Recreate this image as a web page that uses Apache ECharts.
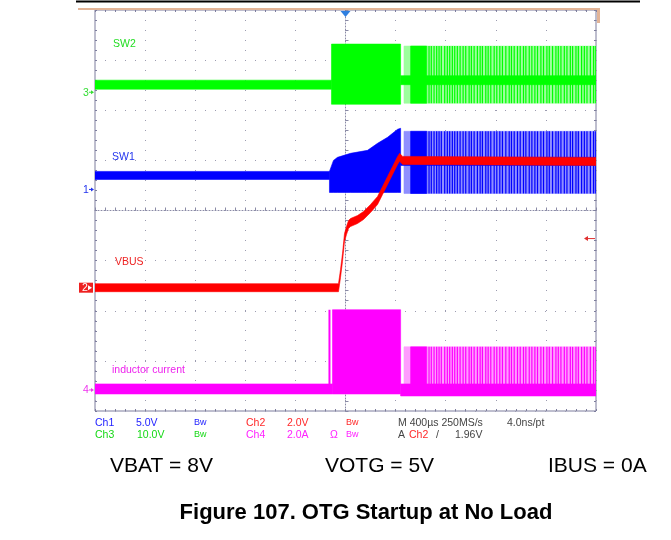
<!DOCTYPE html>
<html>
<head>
<meta charset="utf-8">
<script src="https://cdn.jsdelivr.net/npm/echarts@6/dist/echarts.min.js"></script>
<style>
  html, body { margin: 0; padding: 0; background: #ffffff; }
  #c { width: 671px; height: 540px; }
</style>
</head>
<body>
<div id="c"></div>
<script>
// ---- Scope settings -------------------------------------------------------
const timeMin = -2000;          // µs, trigger at 0
const timeMax = 2000;
const timePerDiv = 400;         // µs / div
const divHalf = 4;              // 8 vertical divisions

// volts (or amps) per division and ground offset in divisions, per channel
const ch1Scale = 5,  ch1Offset = 0.42;   // SW1
const ch2Scale = 2,  ch2Offset = -1.54;  // VBUS
const ch3Scale = 10, ch3Offset = 2.36;   // SW2
const ch4Scale = 2,  ch4Offset = -3.58;  // inductor current
const triggerLevel = 1.96;               // V on Ch2

// ---- Waveforms (time in µs) -----------------------------------------------
// SW2 (V)
const sw2IdleBefore = [[-2000, 1.5], [-112, 1.5]];
const sw2Block      = [[-112, -2.4, 9.6], [440, -2.4, 9.6]];
const sw2BurstSpan  = [[467, -2.2, 9.2], [2000, -2.2, 9.2]];
const sw2BurstBlock = [[520, -2.2, 9.2], [648, -2.2, 9.2]];
const sw2PulseRange = [-2.2, 9.2];
const sw2IdleAfter  = [[440, 2.4], [2000, 2.4]];

// SW1 (V)
const sw1IdleBefore = [[-2000, 1.4], [-128, 1.4]];
const sw1Block = [[-128, -0.3, 1.8], [-96, -0.3, 2.9], [-64, -0.3, 3.2], [40, -0.3, 3.6],
                  [176, -0.3, 3.9], [256, -0.3, 4.6], [336, -0.3, 5.2], [416, -0.3, 6.0],
                  [440, -0.3, 6.1]];
const sw1BurstSpan  = [[467, -0.4, 5.8], [2000, -0.4, 5.8]];
const sw1BurstBlock = [[520, -0.4, 5.8], [648, -0.4, 5.8]];
const sw1PulseRange = [-0.4, 5.8];
const sw1IdleAfter  = [[440, 2.8], [2000, 2.8]];

// VBUS (V)
const vbusT = [-2000, -56, -40, -24, -8, 8, 24, 40, 96, 144, 200, 256, 296, 336, 376, 416, 432, 456, 2000];
const vbusV = [0, 0, 0.56, 1.2, 2.0, 2.28, 2.52, 2.6, 2.72, 2.88, 3.16, 3.48, 3.88, 4.28, 4.68, 5.08, 5.2, 5.08, 5.04];

// Inductor current (A)
const ilIdleBefore = [[-2000, 0.04], [-104, 0.04]];
const ilSpike      = [[-128, -0.16, 3.2]];
const ilBlock      = [[-104, -0.16, 3.2], [440, -0.16, 3.2]];
const ilBurstSpan  = [[467, -0.16, 1.72], [2000, -0.16, 1.72]];
const ilBurstBlock = [[520, -0.16, 1.72], [648, -0.16, 1.72]];
const ilPulseRange = [-0.16, 1.72];
const ilIdleAfter  = [[440, 0], [2000, 0]];

// burst-mode switching events after soft start (shared by all switching channels)
const burstTimes = [667, 685, 707, 728, 747, 765, 792, 813, 832, 853, 872, 893, 915, 939, 960,
  987, 1005, 1027, 1053, 1075, 1093, 1120, 1139, 1160, 1187, 1208, 1232, 1253, 1280, 1307,
  1325, 1347, 1373, 1395, 1421, 1440, 1467, 1488, 1512, 1533, 1560, 1581, 1608, 1627, 1653,
  1680, 1699, 1720, 1747, 1768, 1795, 1813, 1840, 1859, 1885, 1907, 1928, 1955, 1981, 1998];

// ---- Colours ----------------------------------------------------------------
const cGreen = '#00ff00', cGreenL = '#9dff9d';
const cBlue = '#0000ff',  cBlueL = '#8f8fff';
const cRed = '#ff0000';
const cMag = '#ff00ff',   cMagL = '#ff9dff';
const gridDot = '#9c9cb0';
const frameCol = '#7d7d9d';

// ---- Renderers ----------------------------------------------------------------
// filled envelope between low (dim 1) and high (dim 2)
function envelope(name, yIdx, data, color, z) {
  return {
    type: 'custom', name, xAxisIndex: 0, yAxisIndex: yIdx, z, silent: true, clip: true,
    data,
    renderItem(params, api) {
      if (params.dataIndexInside !== 0) return null;
      const n = params.dataInsideLength;
      const top = [], bot = [];
      for (let i = 0; i < n; i++) {
        const t = api.value(0, i);
        top.push(api.coord([t, api.value(2, i)]));
        bot.push(api.coord([t, api.value(1, i)]));
      }
      return { type: 'polygon', shape: { points: top.concat(bot.reverse()) },
               style: { fill: color, stroke: color, lineWidth: 0.6 } };
    }
  };
}
// thick trace: the value line spread vertically by halfPx pixels
function trace(name, yIdx, data, color, halfPx, z) {
  return {
    type: 'custom', name, xAxisIndex: 0, yAxisIndex: yIdx, z, silent: true, clip: true,
    data,
    renderItem(params, api) {
      if (params.dataIndexInside !== 0) return null;
      const n = params.dataInsideLength;
      const top = [], bot = [];
      for (let i = 0; i < n; i++) {
        const p = api.coord([api.value(0, i), api.value(1, i)]);
        top.push([p[0], p[1] - halfPx]);
        bot.push([p[0], p[1] + halfPx]);
      }
      return { type: 'polygon', shape: { points: top.concat(bot.reverse()) },
               style: { fill: color, stroke: color, lineWidth: 0.6 } };
    }
  };
}
// individual switching pulses drawn as vertical strokes
function pulses(name, yIdx, data, color, width, z) {
  return {
    type: 'custom', name, xAxisIndex: 0, yAxisIndex: yIdx, z, silent: true, clip: true,
    data,
    renderItem(params, api) {
      const t = api.value(0);
      const a = api.coord([t, api.value(1)]);
      const b = api.coord([t, api.value(2)]);
      return { type: 'line', shape: { x1: a[0], y1: a[1], x2: b[0], y2: b[1] },
               style: { stroke: color, lineWidth: width } };
    }
  };
}
const withRange = (times, r) => times.map(t => [t, r[0], r[1]]);
const vbusData = vbusT.map((t, i) => [t, vbusV[i]]);

// ---- Axes -------------------------------------------------------------------
const GRID = { left: 95, top: 10, width: 501, height: 401 };
function chAxis(scale, off) {
  return { type: 'value', gridIndex: 0, show: false,
           min: (-divHalf - off) * scale, max: (divHalf - off) * scale,
           axisLine: { onZero: false } };
}
function edgeX(pos) {
  return { type: 'value', gridIndex: 1, position: pos, min: timeMin, max: timeMax, interval: timePerDiv,
           axisLine: { show: false, onZero: false }, axisLabel: { show: false }, splitLine: { show: false },
           axisTick: { show: true, inside: true, length: 2, lineStyle: { color: frameCol } },
           minorTick: { show: true, splitNumber: 5, length: 2, lineStyle: { color: frameCol } } };
}
function edgeY(pos) {
  return { type: 'value', gridIndex: 1, position: pos, min: -divHalf, max: divHalf, interval: 1,
           axisLine: { show: false, onZero: false }, axisLabel: { show: false }, splitLine: { show: false },
           axisTick: { show: true, inside: true, length: 2, lineStyle: { color: frameCol } },
           minorTick: { show: true, splitNumber: 5, length: 2, lineStyle: { color: frameCol } } };
}

const option = {
  animation: false,
  backgroundColor: '#ffffff',
  grid: [
    Object.assign({ show: true, borderColor: frameCol, borderWidth: 1, backgroundColor: 'transparent' }, GRID),
    Object.assign({ show: false }, GRID)
  ],
  xAxis: [
    { type: 'value', gridIndex: 0, min: timeMin, max: timeMax, interval: timePerDiv,
      axisLine: { show: true, onZero: true, onZeroAxisIndex: 0,
                  lineStyle: { color: '#8a8aa6', type: [1, 2], width: 1 } },
      axisTick: { show: true, inside: true, length: 3, lineStyle: { color: '#8a8aa6' } },
      minorTick: { show: true, splitNumber: 5, length: 3, lineStyle: { color: '#8a8aa6' } },
      axisLabel: { show: false },
      splitLine: { show: true, lineStyle: { color: gridDot, type: [1, 9], width: 1 } } },
    edgeX('top'),
    edgeX('bottom')
  ],
  yAxis: [
    { type: 'value', gridIndex: 0, min: -divHalf, max: divHalf, interval: 1,
      axisLine: { show: true, onZero: true, onZeroAxisIndex: 0,
                  lineStyle: { color: '#8a8aa6', type: [1, 2], width: 1 } },
      axisTick: { show: true, inside: true, length: 3, lineStyle: { color: '#8a8aa6' } },
      minorTick: { show: true, splitNumber: 5, length: 3, lineStyle: { color: '#8a8aa6' } },
      axisLabel: { show: false },
      splitLine: { show: true, lineStyle: { color: gridDot, type: [1, 9], width: 1 } } },
    chAxis(ch1Scale, ch1Offset),   // 1
    chAxis(ch2Scale, ch2Offset),   // 2
    chAxis(ch3Scale, ch3Offset),   // 3
    chAxis(ch4Scale, ch4Offset),   // 4
    edgeY('left'),
    edgeY('right')
  ],
  series: [
    // SW2 (Ch3)
    envelope('SW2 burst', 3, sw2BurstSpan, cGreenL, 3),
    pulses('SW2 pulses', 3, withRange(burstTimes, sw2PulseRange), cGreen, 1.2, 4),
    envelope('SW2 burst block', 3, sw2BurstBlock, cGreen, 4),
    envelope('SW2 switching', 3, sw2Block, cGreen, 4),
    trace('SW2 idle', 3, sw2IdleBefore, cGreen, 4.5, 5),
    trace('SW2 idle after', 3, sw2IdleAfter, cGreen, 4.5, 5),
    // SW1 (Ch1)
    envelope('SW1 burst', 1, sw1BurstSpan, cBlueL, 3),
    pulses('SW1 pulses', 1, withRange(burstTimes, sw1PulseRange), cBlue, 1.2, 4),
    envelope('SW1 burst block', 1, sw1BurstBlock, cBlue, 4),
    envelope('SW1 switching', 1, sw1Block, cBlue, 4),
    trace('SW1 idle', 1, sw1IdleBefore, cBlue, 4, 5),
    trace('SW1 idle after', 1, sw1IdleAfter, cBlue, 4, 5),
    // Inductor current (Ch4)
    envelope('IL burst', 4, ilBurstSpan, cMagL, 3),
    pulses('IL pulses', 4, withRange(burstTimes, ilPulseRange), cMag, 1.2, 4),
    pulses('IL spike', 4, ilSpike, cMag, 2, 4),
    envelope('IL burst block', 4, ilBurstBlock, cMag, 4),
    envelope('IL switching', 4, ilBlock, cMag, 4),
    trace('IL idle', 4, ilIdleBefore, cMag, 5, 5),
    trace('IL idle after', 4, ilIdleAfter, cMag, 6, 5),
    // VBUS (Ch2) on top
    trace('VBUS', 2, vbusData, cRed, 4, 8)
  ]
};

const chart = echarts.init(document.getElementById('c'), null, { renderer: 'canvas' });
chart.setOption(option);

// ---- Annotations ----------------------------------------------------------------
const FONT = '"Liberation Sans", Arial, sans-serif';
function txt(x, y, s, color, size, extra) {
  return Object.assign({ type: 'text', x, y, silent: true, z: 50,
    style: { text: s, fill: color, font: (size || 10.5) + 'px ' + FONT, verticalAlign: 'middle' } }, extra || {});
}
function groundMarker(yIdx, label, color, boxed) {
  const y = chart.convertToPixel({ yAxisIndex: yIdx }, 0);
  const els = [];
  if (boxed) {
    els.push({ type: 'rect', shape: { x: 79, y: y - 5, width: 14, height: 10 }, style: { fill: color }, z: 50, silent: true });
    els.push(txt(82, y + 0.5, label, '#ffffff', 10.5));
    els.push({ type: 'polygon', shape: { points: [[88, y - 2.5], [92, y], [88, y + 2.5]] }, style: { fill: '#ffffff' }, z: 51, silent: true });
  } else {
    els.push(txt(83, y + 0.5, label, color, 10.5));
    els.push({ type: 'line', shape: { x1: 89, y1: y, x2: 92, y2: y }, style: { stroke: color, lineWidth: 1 }, z: 50, silent: true });
    els.push({ type: 'polygon', shape: { points: [[91, y - 2], [94, y], [91, y + 2]] }, style: { fill: color }, z: 50, silent: true });
  }
  return els;
}

const trigX = chart.convertToPixel({ xAxisIndex: 0 }, 0);
const trigY = chart.convertToPixel({ yAxisIndex: 2 }, triggerLevel);

const graphics = [
  // page rules
  { type: 'line', shape: { x1: 76, y1: 1.5, x2: 640, y2: 1.5 }, style: { stroke: '#000000', lineWidth: 2 }, silent: true },
  { type: 'rect', shape: { x: 78, y: 8, width: 520, height: 2 }, style: { fill: '#e2b497' }, silent: true },
  { type: 'rect', shape: { x: 597, y: 8, width: 3, height: 15 }, style: { fill: '#e2b497' }, silent: true },
  // trigger position and trigger level markers
  { type: 'polygon', shape: { points: [[trigX - 5, 11], [trigX + 5, 11], [trigX, 17]] }, style: { fill: '#2f7fe0' }, z: 50, silent: true },
  { type: 'line', shape: { x1: 586, y1: trigY, x2: 595, y2: trigY }, style: { stroke: '#e03030', lineWidth: 1 }, z: 50, silent: true },
  { type: 'polygon', shape: { points: [[584, trigY], [588, trigY - 2.5], [588, trigY + 2.5]] }, style: { fill: '#e03030' }, z: 50, silent: true },
  // channel labels
  txt(113, 44, 'SW2', '#22dd22'),
  txt(112, 157, 'SW1', '#2233ee'),
  txt(115, 262, 'VBUS', '#ee2222'),
  txt(112, 370, 'inductor current', '#ee22ee'),
  // status readout
  txt(95, 423, 'Ch1', '#1c1cff'), txt(136, 423, '5.0V', '#1c1cff'), txt(194, 423, 'Bw', '#1c1cff', 9),
  txt(246, 423, 'Ch2', '#ff2828'), txt(287, 423, '2.0V', '#ff2828'), txt(346, 423, 'Bw', '#ff2828', 9),
  txt(398, 423, 'M 400µs 250MS/s', '#444444'), txt(507, 423, '4.0ns/pt', '#444444'),
  txt(95, 435, 'Ch3', '#14d814'), txt(137, 435, '10.0V', '#14d814'), txt(194, 435, 'Bw', '#14d814', 9),
  txt(246, 435, 'Ch4', '#ff22ff'), txt(287, 435, '2.0A', '#ff22ff'), txt(330, 435, 'Ω', '#ff22ff'),
  txt(346, 435, 'Bw', '#ff22ff', 9),
  txt(398, 435, 'A', '#444444'), txt(409, 435, 'Ch2', '#ff2828'), txt(436, 435, '/', '#444444'),
  txt(455, 435, '1.96V', '#444444'),
  // test conditions and caption
  txt(110, 466, 'VBAT = 8V', '#000000', 21),
  txt(325, 466, 'VOTG = 5V', '#000000', 21),
  txt(548, 466, 'IBUS = 0A', '#000000', 21),
  { type: 'text', x: 366, y: 513, silent: true, z: 50,
    style: { text: 'Figure 107. OTG Startup at No Load', fill: '#000000',
             font: 'bold 22px ' + FONT, align: 'center', verticalAlign: 'middle' } }
].concat(
  groundMarker(3, '3', '#33dd33', false),
  groundMarker(1, '1', '#2233ee', false),
  groundMarker(2, '2', '#ee2020', true),
  groundMarker(4, '4', '#ee33ee', false)
);

chart.setOption({ graphic: { elements: graphics } });
</script>
</body>
</html>
